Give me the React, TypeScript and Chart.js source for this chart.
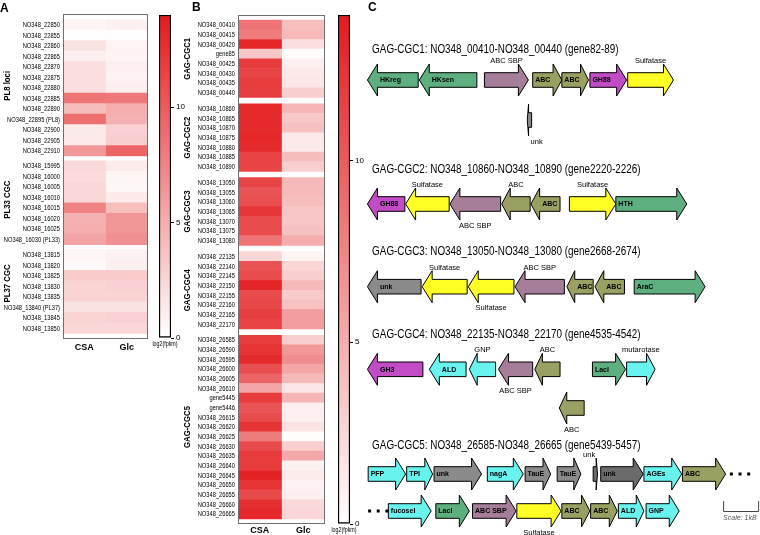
import React, { useEffect, useRef } from 'react';
import { Chart, registerables } from 'chart.js';
Chart.register(...registerables);

const ARIAL = '"Liberation Sans", Arial, Helvetica, sans-serif';
const NARROW_X = 0.82; // horizontal compression to mimic Arial Narrow

// ---------------- Panel A data ----------------
const aGroups = ['PL8 loci', 'PL33 CGC', 'PL37 CGC'];
const aGroupSizes = [13, 8, 8];
const aGenes = [
  'NO348_22850', 'NO348_22855', 'NO348_22860', 'NO348_22865', 'NO348_22870', 'NO348_22875', 'NO348_22880',
  'NO348_22885', 'NO348_22890', 'NO348_22895 (PL8)', 'NO348_22900', 'NO348_22905', 'NO348_22910',
  'NO348_15995', 'NO348_16000', 'NO348_16005', 'NO348_16010', 'NO348_16015', 'NO348_16020', 'NO348_16025', 'NO348_16030 (PL33)',
  'NO348_13815', 'NO348_13820', 'NO348_13825', 'NO348_13830', 'NO348_13835', 'NO348_13840 (PL37)', 'NO348_13845', 'NO348_13850',
];
const aCSA = [0.6, 0.1, 1.8, 1.0, 2.0, 2.0, 2.0, 8.5, 4.0, 8.8, 1.2, 1.3, 6.3,
  2.3, 2.2, 2.4, 2.4, 7.5, 4.8, 5.0, 5.5,
  0.6, 0.3, 3.2, 2.7, 2.7, 1.8, 2.7, 2.5];
const aGlc = [0.9, 0.1, 0.7, 0.7, 1.0, 0.8, 1.0, 8.2, 5.0, 4.8, 2.8, 3.0, 9.5,
  1.2, 0.6, 0.5, 1.2, 4.0, 6.5, 6.5, 6.8,
  0.8, 1.0, 3.2, 2.8, 2.7, 1.8, 2.8, 2.5];

// ---------------- Panel B data ----------------
const bGroups = ['GAG-CGC1', 'GAG-CGC2', 'GAG-CGC3', 'GAG-CGC4', 'GAG-CGC5'];
const bGroupSizes = [8, 7, 7, 8, 19];
const bGenes = [
  'NO348_00410', 'NO348_00415', 'NO348_00420', 'gene85', 'NO348_00425', 'NO348_00430', 'NO348_00435', 'NO348_00440',
  'NO348_10860', 'NO348_10865', 'NO348_10870', 'NO348_10875', 'NO348_10880', 'NO348_10885', 'NO348_10890',
  'NO348_13050', 'NO348_13055', 'NO348_13060', 'NO348_13065', 'NO348_13070', 'NO348_13075', 'NO348_13080',
  'NO348_22135', 'NO348_22140', 'NO348_22145', 'NO348_22150', 'NO348_22155', 'NO348_22160', 'NO348_22165', 'NO348_22170',
  'NO348_26585', 'NO348_26590', 'NO348_26595', 'NO348_26600', 'NO348_26605', 'NO348_26610', 'gene5445', 'gene5446',
  'NO348_26615', 'NO348_26620', 'NO348_26625', 'NO348_26630', 'NO348_26635', 'NO348_26640', 'NO348_26645',
  'NO348_26650', 'NO348_26655', 'NO348_26660', 'NO348_26665',
];
const bCSA = [8.5, 8.0, 13.2, 3.5, 12.0, 11.5, 12.0, 11.8,
  13.0, 13.0, 13.0, 13.2, 13.0, 11.5, 11.5,
  11.5, 10.5, 10.8, 12.2, 11.0, 11.0, 8.5,
  2.5, 10.5, 11.0, 13.3, 11.0, 11.2, 11.8, 11.5,
  12.0, 12.5, 13.0, 10.8, 9.5, 5.5, 12.0, 10.5, 11.0, 12.5, 8.0, 11.0, 12.0, 12.0, 13.5, 12.5, 11.0, 12.8, 13.2];
const bGlc = [4.0, 4.3, 2.0, 0.2, 1.0, 1.3, 1.5, 3.0,
  4.5, 3.3, 3.8, 1.3, 1.3, 4.0, 3.0,
  4.3, 4.2, 4.0, 3.5, 3.5, 3.8, 5.0,
  0.7, 2.5, 3.0, 4.3, 3.2, 3.7, 6.0, 6.0,
  3.0, 6.3, 7.0, 5.5, 4.3, 1.5, 4.5, 1.0, 1.0, 1.7, 0.2, 3.0, 5.3, 0.8, 1.2, 0.8, 1.0, 2.3, 2.5];

const conditions = ['CSA', 'Glc'];
const colorbarTicks = [0, 5, 10];
const colorbarMax = 14;
const colorbarTitle = 'log2(fpkm)';

// ---------------- Panel C data (kb) ----------------
// [label, start kb, end kb, strand, family, label placement, track]
type Gene = [string, number, number, number, string, string, number];
const cgcTitles = [
  'GAG-CGC1: NO348_00410-NO348_00440 (gene82-89)',
  'GAG-CGC2: NO348_10860-NO348_10890 (gene2220-2226)',
  'GAG-CGC3: NO348_13050-NO348_13080 (gene2668-2674)',
  'GAG-CGC4: NO348_22135-NO348_22170 (gene4535-4542)',
  'GAG-CGC5: NO348_26585-NO348_26665 (gene5439-5457)',
];
const titleY = [50, 170, 251.7, 335, 445.7];
const trackY = [80, 120, 204, 286.7, 369.3, 408, 474, 511];
const cgc1Genes: Gene[] = [
  ['HKreg', 0.04, 1.45, -1, 'hk', 'in', 0],
  ['HKsen', 1.48, 3.08, -1, 'hk', 'in', 0],
  ['ABC SBP', 3.29, 4.51, 1, 'sbp', 'above', 0],
  ['ABC', 4.63, 5.44, 1, 'abc', 'in', 0],
  ['ABC', 5.44, 6.18, 1, 'abc', 'in', 0],
  ['GH88', 6.22, 7.24, 1, 'gh', 'in', 0],
  ['Sulfatase', 7.27, 8.54, 1, 'sulf', 'above', 0],
  ['unk', 4.48, 4.60, -1, 'unk', 'below', 1],
];
const cgc2Genes: Gene[] = [
  ['GH88', 0.04, 1.08, -1, 'gh', 'in', 2],
  ['Sulfatase', 1.10, 2.31, -1, 'sulf', 'above', 2],
  ['ABC SBP', 2.33, 3.74, -1, 'sbp', 'below', 2],
  ['ABC', 3.77, 4.56, -1, 'abc', 'above', 2],
  ['ABC', 4.58, 5.39, -1, 'abc', 'in', 2],
  ['Sulfatase', 5.65, 6.94, 1, 'sulf', 'above', 2],
  ['HTH', 6.94, 8.91, 1, 'hk', 'in', 2],
];
const cgc3Genes: Gene[] = [
  ['unk', 0.04, 1.53, -1, 'unk', 'in', 3],
  ['Sulfatase', 1.56, 2.81, -1, 'sulf', 'above', 3],
  ['Sulfatase', 2.84, 4.11, -1, 'sulf', 'below', 3],
  ['ABC SBP', 4.14, 5.51, -1, 'sbp', 'above', 3],
  ['ABC', 5.58, 6.31, -1, 'abc', 'in', 3],
  ['ABC', 6.36, 7.18, -1, 'abc', 'in', 3],
  ['AraC', 7.45, 9.42, 1, 'hk', 'in', 3],
];
const cgc4Genes: Gene[] = [
  ['GH3', 0.04, 1.58, -1, 'gh', 'in', 4],
  ['ALD', 1.76, 2.78, -1, 'cyan', 'in', 4],
  ['GNP', 2.87, 3.60, -1, 'cyan', 'above', 4],
  ['ABC SBP', 3.68, 4.63, -1, 'sbp', 'below', 4],
  ['ABC', 4.69, 5.39, -1, 'abc', 'above', 4],
  ['LacI', 6.29, 7.21, 1, 'hk', 'in', 4],
  ['mutarotase', 7.24, 8.03, 1, 'cyan', 'above', 4],
  ['ABC', 5.37, 6.06, -1, 'abc', 'below', 5],
];
const cgc5Genes: Gene[] = [
  ['PFP', 0.06, 1.10, 1, 'cyan', 'in', 6],
  ['TPI', 1.13, 1.85, 1, 'cyan', 'in', 6],
  ['unk', 1.89, 3.21, 1, 'unk', 'in', 6],
  ['nagA', 3.37, 4.37, 1, 'cyan', 'in', 6],
  ['TauE', 4.42, 5.13, 1, 'unk', 'in', 6],
  ['TauE', 5.31, 5.97, 1, 'unk', 'in', 6],
  ['unk', 6.31, 6.43, 1, 'unkd', 'above', 6],
  ['unk', 6.52, 7.70, 1, 'unkd', 'in', 6],
  ['AGEs', 7.72, 8.77, 1, 'cyan', 'in', 6],
  ['ABC', 8.79, 9.99, 1, 'abc', 'in', 6],
  ['fucoseI', 0.62, 1.81, 1, 'cyan', 'in', 7],
  ['LacI', 1.94, 2.87, 1, 'hk', 'in', 7],
  ['ABC SBP', 2.96, 4.17, 1, 'sbp', 'in', 7],
  ['Sulfatase', 4.19, 5.42, 1, 'sulf', 'below', 7],
  ['ABC', 5.44, 6.22, 1, 'abc', 'in', 7],
  ['ABC', 6.24, 6.98, 1, 'abc', 'in', 7],
  ['ALD', 7.01, 7.72, 1, 'cyan', 'in', 7],
  ['GNP', 7.78, 8.70, 1, 'cyan', 'in', 7],
];
const ellipsisDots: [number, number][] = [[10.15, 6], [10.39, 6], [10.63, 6], [0.10, 7], [0.34, 7], [0.58, 7]];
const scaleBarKb = [9.92, 10.92];
const scaleBarLabel = 'Scale: 1kB';
const C_XMAX = 394 / 36;

const familyColors: Record<string, string> = {
  hk: '#5eaf7f', sbp: '#a67e99', abc: '#9aa061', gh: '#c24cc6', sulf: '#ffff26',
  cyan: '#68f3ef', unk: '#8a8a8a', unkd: '#6c6c6c',
};

function heatColor(v: number) {
  const t = Math.max(0, Math.min(1, v / colorbarMax));
  const r = Math.round(255 + (227 - 255) * t);
  const g = Math.round(255 + (26 - 255) * t);
  const b = Math.round(255 + (28 - 255) * t);
  return `rgb(${r},${g},${b})`;
}

function rowPositions(sizes: number[], gap: number) {
  const pos: number[] = [];
  let p = 0;
  sizes.forEach((n) => {
    for (let i = 0; i < n; i++) { pos.push(p); p += 1; }
    p += gap;
  });
  return pos;
}

function drawText(ctx: any, text: string, x: number, y: number, font: string, align: string,
  sx = 1, rot = 0, baseline = 'middle', color = '#000') {
  ctx.save();
  ctx.translate(x, y);
  if (rot) ctx.rotate(rot);
  ctx.scale(sx, 1);
  ctx.font = font;
  ctx.textAlign = align;
  ctx.textBaseline = baseline;
  ctx.fillStyle = color;
  ctx.fillText(text, 0, 0);
  ctx.restore();
}

function heatmapConfig(o: any) {
  const pos = rowPositions(o.sizes, o.gap);
  const decor = {
    id: 'heatDecor',
    afterDatasetsDraw(chart: any) {
      const { ctx, chartArea: a, scales: { y } } = chart;
      ctx.save();
      ctx.strokeStyle = '#707070';
      ctx.lineWidth = 1;
      ctx.strokeRect(a.left + 0.5, a.top + 0.5, a.width - 1, a.height - 1);
      ctx.restore();
      o.labels.forEach((lab: string, i: number) => {
        drawText(ctx, lab, a.left - 3, y.getPixelForValue(pos[i]) + 0.5, `7px ${ARIAL}`, 'right', NARROW_X);
      });
      let k = 0;
      o.groups.forEach((g: string, gi: number) => {
        const first = pos[k], last = pos[k + o.sizes[gi] - 1];
        k += o.sizes[gi];
        const yc = (y.getPixelForValue(first - 0.5) + y.getPixelForValue(last + 0.5)) / 2 + (o.groupShift[gi] || 0);
        drawText(ctx, g, o.groupX, yc, `bold 9.5px ${ARIAL}`, 'center', NARROW_X, -Math.PI / 2);
      });
      drawText(ctx, o.letter, o.letterX, o.letterY, `bold 12px ${ARIAL}`, 'left', 1, 0, 'alphabetic');
    },
  };
  return {
    type: 'bar',
    data: {
      datasets: [o.csa, o.glc].map((vals: number[], c: number) => ({
        label: conditions[c],
        data: vals.map((_v, i) => ({ x: [c, c + 1], y: pos[i] })),
        backgroundColor: vals.map(heatColor),
        borderWidth: 0,
        barPercentage: 1,
        categoryPercentage: 1,
        grouped: false,
      })),
    },
    options: {
      indexAxis: 'y',
      responsive: false,
      animation: false,
      layout: { padding: { top: o.padTop, right: o.padRight, left: 0, bottom: 0 } },
      plugins: { legend: { display: false }, tooltip: { enabled: false } },
      scales: {
        x: {
          type: 'linear', min: 0, max: 2,
          grid: { display: false, drawTicks: false }, border: { display: false },
          afterBuildTicks: (s: any) => { s.ticks = [{ value: 0.5 }, { value: 1.5 }]; },
          afterFit: (s: any) => { s.height = o.xAxisHeight; },
          ticks: {
            autoSkip: false, maxRotation: 0, padding: o.xPad, color: '#000',
            font: { family: ARIAL, size: 9, weight: 'bold' },
            callback: (_v: any, i: number) => conditions[i],
          },
        },
        y: {
          type: 'linear', reverse: true, min: -0.5, max: pos[pos.length - 1] + 0.5,
          grid: { display: false, drawTicks: false }, border: { display: false },
          afterBuildTicks: (s: any) => { s.ticks = pos.map((v) => ({ value: v })); },
          afterFit: (s: any) => { s.width = o.yAxisWidth; },
          ticks: { display: false, autoSkip: false },
        },
      },
    },
    plugins: [decor],
  };
}

function colorbarConfig(o: any) {
  const title = {
    id: 'cbTitle',
    afterDraw(chart: any) {
      const a = chart.chartArea;
      drawText(chart.ctx, colorbarTitle, (a.left + a.right) / 2, a.bottom + o.titleDy, `6.5px ${ARIAL}`, 'center', NARROW_X);
    },
  };
  return {
    type: 'bar',
    data: {
      labels: [colorbarTitle],
      datasets: [{
        data: [[0, colorbarMax]],
        backgroundColor: (c: any) => {
          const chart = c.chart;
          if (!chart.chartArea) return 'rgba(0,0,0,0)';
          const ys = chart.scales.y;
          const g = chart.ctx.createLinearGradient(0, ys.getPixelForValue(0), 0, ys.getPixelForValue(colorbarMax));
          g.addColorStop(0, heatColor(0));
          g.addColorStop(1, heatColor(colorbarMax));
          return g;
        },
        borderColor: '#000',
        borderWidth: 1.5,
        borderSkipped: false,
        barPercentage: 1,
        categoryPercentage: 1,
      }],
    },
    options: {
      responsive: false,
      animation: false,
      layout: { padding: { top: o.padTop, left: o.padLeft, right: 0, bottom: o.padBottom } },
      plugins: { legend: { display: false }, tooltip: { enabled: false } },
      scales: {
        x: { display: false },
        y: {
          position: 'right', min: 0, max: colorbarMax,
          afterBuildTicks: (s: any) => { s.ticks = colorbarTicks.map((v) => ({ value: v })); },
          afterFit: (s: any) => { s.width = o.yAxisWidth; },
          grid: { drawOnChartArea: false, drawTicks: true, tickLength: 3, color: '#000' },
          border: { display: false },
          ticks: { padding: 2, color: '#000', font: { family: ARIAL, size: 8 } },
        },
      },
    },
    plugins: [title],
  };
}

function geneMapConfig() {
  const allGenes = [...cgc1Genes, ...cgc2Genes, ...cgc3Genes, ...cgc4Genes, ...cgc5Genes];
  const genePlugin = {
    id: 'genes',
    afterDatasetsDraw(chart: any) {
      const { ctx, scales: { x, y } } = chart;
      drawText(ctx, 'C', 8, 11, `bold 12px ${ARIAL}`, 'left', 1, 0, 'alphabetic');
      cgcTitles.forEach((t, i) =>
        drawText(ctx, t, x.getPixelForValue(0.17), y.getPixelForValue(titleY[i]), `12.5px ${ARIAL}`, 'left', 0.79));
      const bodyH = 7.3, headH = 16;
      ctx.save();
      allGenes.forEach(([label, s, e, strand, fam, lp, tr]) => {
        const x0 = x.getPixelForValue(s), x1 = x.getPixelForValue(e);
        const yc = y.getPixelForValue(trackY[tr]);
        const len = x1 - x0;
        const hl = Math.min(10, len * 0.3);
        ctx.beginPath();
        if (strand > 0) {
          const hb = x1 - hl;
          ctx.moveTo(x0, yc - bodyH); ctx.lineTo(hb, yc - bodyH); ctx.lineTo(hb, yc - headH);
          ctx.lineTo(x1, yc); ctx.lineTo(hb, yc + headH); ctx.lineTo(hb, yc + bodyH); ctx.lineTo(x0, yc + bodyH);
        } else {
          const hb = x0 + hl;
          ctx.moveTo(x1, yc - bodyH); ctx.lineTo(hb, yc - bodyH); ctx.lineTo(hb, yc - headH);
          ctx.lineTo(x0, yc); ctx.lineTo(hb, yc + headH); ctx.lineTo(hb, yc + bodyH); ctx.lineTo(x1, yc + bodyH);
        }
        ctx.closePath();
        ctx.fillStyle = familyColors[fam];
        ctx.fill();
        ctx.strokeStyle = '#000';
        ctx.lineWidth = 1;
        ctx.stroke();
        if (lp === 'in') {
          const bl = strand > 0 ? x0 : x0 + hl;
          drawText(ctx, label, bl + 2.5, yc + 0.5, `bold 7px ${ARIAL}`, 'left');
        } else {
          let lx = (x0 + x1) / 2;
          if (len < 8) lx = lp === 'above' ? x0 - 4 : x1 + 5;
          drawText(ctx, label, lx, lp === 'above' ? yc - 19 : yc + 21.5, `7.5px ${ARIAL}`, 'center');
        }
      });
      ctx.fillStyle = '#000';
      ellipsisDots.forEach(([kb, tr]) => {
        const px = x.getPixelForValue(kb), py = y.getPixelForValue(trackY[tr]);
        ctx.fillRect(px - 1.5, py - 1.5, 3, 3);
      });
      const sx0 = x.getPixelForValue(scaleBarKb[0]), sx1 = x.getPixelForValue(scaleBarKb[1]);
      const sy = y.getPixelForValue(trackY[7]);
      ctx.strokeStyle = '#444';
      ctx.lineWidth = 1;
      ctx.beginPath();
      ctx.moveTo(sx0 + 0.5, sy - 10); ctx.lineTo(sx0 + 0.5, sy + 0.5); ctx.lineTo(sx1 - 0.5, sy + 0.5); ctx.lineTo(sx1 - 0.5, sy - 10);
      ctx.stroke();
      ctx.restore();
      drawText(ctx, scaleBarLabel, sx0, sy + 7.5, `italic 7px ${ARIAL}`, 'left', 1, 0, 'middle', '#555');
    },
  };
  return {
    type: 'scatter',
    data: { datasets: [{ data: [] }] },
    options: {
      responsive: false,
      animation: false,
      layout: { padding: { left: 6, right: 0, top: 0, bottom: 0 } },
      plugins: { legend: { display: false }, tooltip: { enabled: false } },
      scales: {
        x: { type: 'linear', min: 0, max: C_XMAX, display: false },
        y: { type: 'linear', min: 0, max: 535, reverse: true, display: false },
      },
    },
    plugins: [genePlugin],
  };
}

function ChartBox({ left, top, width, height, make }: any) {
  const ref = useRef<HTMLCanvasElement>(null);
  useEffect(() => {
    const chart = new Chart(ref.current as HTMLCanvasElement, make());
    return () => chart.destroy();
  }, []);
  return (
    <canvas ref={ref} width={width} height={height}
      style={{ position: 'absolute', left, top, width, height }} />
  );
}

export default function App() {
  return (
    <div style={{ position: 'absolute', left: 0, top: 0, width: 760, height: 535, background: '#fff', overflow: 'hidden' }}>
      <ChartBox left={0} top={0} width={152} height={360} make={() => heatmapConfig({
        labels: aGenes, csa: aCSA, glc: aGlc, groups: aGroups, sizes: aGroupSizes, gap: 0.45,
        padTop: 14, padRight: 4, yAxisWidth: 63, xAxisHeight: 21, xPad: 3,
        groupX: 7, groupShift: [-2, -3, -8], letter: 'A', letterX: 0, letterY: 12,
      })} />
      <ChartBox left={150} top={0} width={50} height={360} make={() => colorbarConfig({
        padTop: 15, padLeft: 9, yAxisWidth: 29, padBottom: 22, titleDy: 6,
      })} />
      <ChartBox left={170} top={0} width={160} height={535} make={() => heatmapConfig({
        labels: bGenes, csa: bCSA, glc: bGlc, groups: bGroups, sizes: bGroupSizes, gap: 0.65,
        padTop: 15, padRight: 5, yAxisWidth: 68, xAxisHeight: 11, xPad: 1,
        groupX: 17, groupShift: [0, 0, 0, 0, 0], letter: 'B', letterX: 22, letterY: 11,
      })} />
      <ChartBox left={325} top={0} width={45} height={535} make={() => colorbarConfig({
        padTop: 15, padLeft: 13, yAxisWidth: 20, padBottom: 11, titleDy: 6,
      })} />
      <ChartBox left={360} top={0} width={400} height={535} make={geneMapConfig} />
    </div>
  );
}
